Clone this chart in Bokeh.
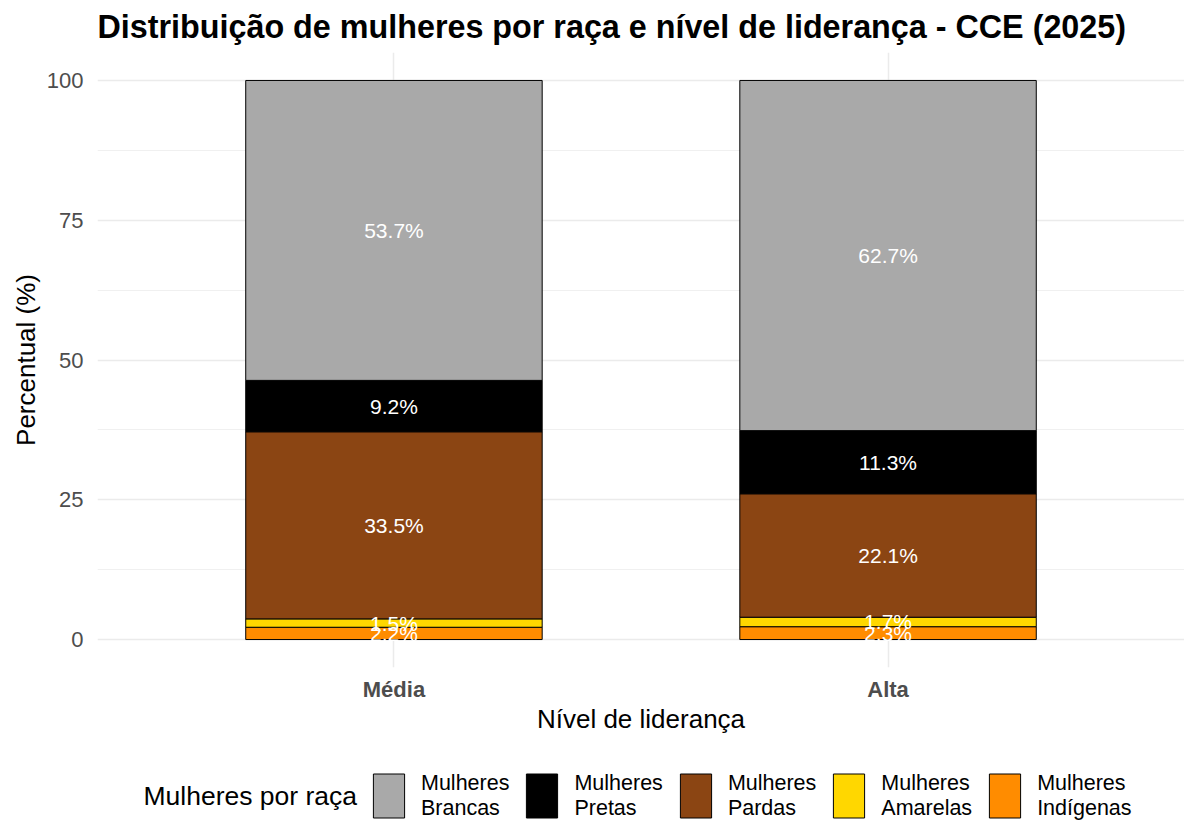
from bokeh.plotting import figure
from bokeh.layouts import column
from bokeh.models import Range1d, FixedTicker, Legend, LegendItem, ColumnDataSource, Label
from bokeh.embed import file_html
from bokeh.resources import INLINE
from bokeh.core.properties import value

FONT = "Liberation Sans"

# ---- data ----
titulo = "Distribuição de mulheres por raça e nível de liderança - CCE (2025)"
niveis = ["Média", "Alta"]
racas = ["Mulheres Indígenas", "Mulheres Amarelas", "Mulheres Pardas",
         "Mulheres Pretas", "Mulheres Brancas"]  # stacking order (bottom -> top)
indigenas = [2.2, 2.3]
amarelas = [1.5, 1.7]
pardas = [33.5, 22.1]
pretas = [9.2, 11.3]
brancas = [53.7, 62.7]
cores = ["#FF8C00", "#FFD700", "#8B4513", "#000000", "#A9A9A9"]
legend_order = ["Mulheres Brancas", "Mulheres Pretas", "Mulheres Pardas",
                "Mulheres Amarelas", "Mulheres Indígenas"]
legend_title = "Mulheres por raça"
y_ticks = [0, 25, 50, 75, 100]
y_minor = [12.5, 37.5, 62.5, 87.5]

series = [indigenas, amarelas, pardas, pretas, brancas]
xs = [i + 1 for i in range(len(niveis))]
totals = [sum(s[i] for s in series) for i in range(len(niveis))]

W = 1184


def blank_fig(h):
    f = figure(output_backend="svg", toolbar_location=None, width=W, height=h,
               x_axis_type=None, y_axis_type=None,
               x_range=Range1d(0.4, 2.6), y_range=Range1d(0, 100),
               min_border_left=97, min_border_right=0, min_border_top=0,
               min_border_bottom=0)
    f.outline_line_color = None
    f.grid.visible = False
    f.border_fill_color = "white"
    f.background_fill_color = "white"
    return f


# ---- title strip ----
tp = blank_fig(52)
tp.add_layout(Label(x=0, y=25.5, x_units="screen", y_units="screen",
                    text=titulo, text_font=FONT, text_font_size="32.3px",
                    text_font_style="bold", text_color="black",
                    text_baseline="alphabetic"))

# ---- main chart ----
p = figure(output_backend="svg", toolbar_location=None,
           width=W, height=708,
           min_border_left=97, min_border_right=0, min_border_top=0,
           min_border_bottom=93,
           x_range=Range1d(0.4, 2.6), y_range=Range1d(-5, 105))
p.outline_line_color = None
p.background_fill_color = "white"
p.border_fill_color = "white"

sources = {}
cum = [0.0] * len(niveis)
for name, vals, cor in zip(racas, series, cores):
    fill = [vals[i] / totals[i] * 100 for i in range(len(niveis))]
    bottom = cum[:]
    top = [bottom[i] + fill[i] for i in range(len(niveis))]
    src = ColumnDataSource(dict(
        x=xs, bottom=bottom, top=top,
        ymid=[(bottom[i] + top[i]) / 2 for i in range(len(niveis))],
        label=[f"{v:.1f}%" for v in vals]))
    p.vbar(x="x", width=0.6, bottom="bottom", top="top", source=src,
           fill_color=cor, line_color="black", line_width=1)
    sources[name] = src
    cum = top

for name in racas:
    p.text(x="x", y="ymid", text="label", source=sources[name],
           text_font=value(FONT), text_font_size="21px", text_color="white",
           text_align="center", text_baseline="middle")

p.xaxis.ticker = FixedTicker(ticks=xs)
p.xaxis.major_label_overrides = {x: n for x, n in zip(xs, niveis)}
p.xaxis.major_label_text_font = FONT
p.xaxis.major_label_text_font_size = "22px"
p.xaxis.major_label_text_font_style = "bold"
p.xaxis.major_label_text_color = "#4d4d4d"
p.xaxis.major_label_standoff = 9
p.xaxis.axis_label = "Nível de liderança"
p.xaxis.axis_label_standoff = -1

p.yaxis.ticker = FixedTicker(ticks=y_ticks, minor_ticks=y_minor)
p.yaxis.major_label_text_font = FONT
p.yaxis.major_label_text_font_size = "22px"
p.yaxis.major_label_text_color = "#4d4d4d"
p.yaxis.major_label_standoff = 14
p.yaxis.axis_label = "Percentual (%)"
p.yaxis.axis_label_standoff = 3

for ax in (p.xaxis[0], p.yaxis[0]):
    ax.axis_line_color = None
    ax.major_tick_line_color = None
    ax.minor_tick_line_color = None
    ax.major_tick_out = 0
    ax.major_tick_in = 0
    ax.minor_tick_out = 0
    ax.minor_tick_in = 0
    ax.axis_label_text_font = FONT
    ax.axis_label_text_font_size = "26px"
    ax.axis_label_text_font_style = "normal"
    ax.axis_label_text_color = "black"

p.xgrid.grid_line_color = "#ebebeb"
p.xgrid.grid_line_width = 1.5
p.ygrid.grid_line_color = "#ebebeb"
p.ygrid.grid_line_width = 1.5
p.ygrid.minor_grid_line_color = "#f0f0f0"
p.ygrid.minor_grid_line_width = 1

# ---- legend strip ----
lp = blank_fig(61)
items = []
for n in legend_order:
    k = racas.index(n)
    r = lp.vbar(x=xs, top=series[k], width=0.6, fill_color=cores[k],
                line_color="black", line_width=1, visible=False)
    items.append(LegendItem(label=n.replace(" ", "\n"), renderers=[r]))

legend = Legend(items=items, orientation="horizontal", location=(272, -2),
                label_text_font=FONT, label_text_font_size="21.5px",
                label_text_color="black", label_text_line_height=0.86,
                label_standoff=13, spacing=13,
                glyph_width=39, glyph_height=55, label_height=55,
                padding=0, margin=0, border_line_color=None,
                background_fill_alpha=0, inactive_fill_alpha=0)
lp.add_layout(legend)
lp.add_layout(Label(x=46, y=26, x_units="screen", y_units="screen",
                    text=legend_title, text_font=FONT, text_font_size="26.5px",
                    text_color="black", text_baseline="middle"))

open("out.html", "w").write(file_html(column(tp, p, lp, spacing=0), INLINE))
